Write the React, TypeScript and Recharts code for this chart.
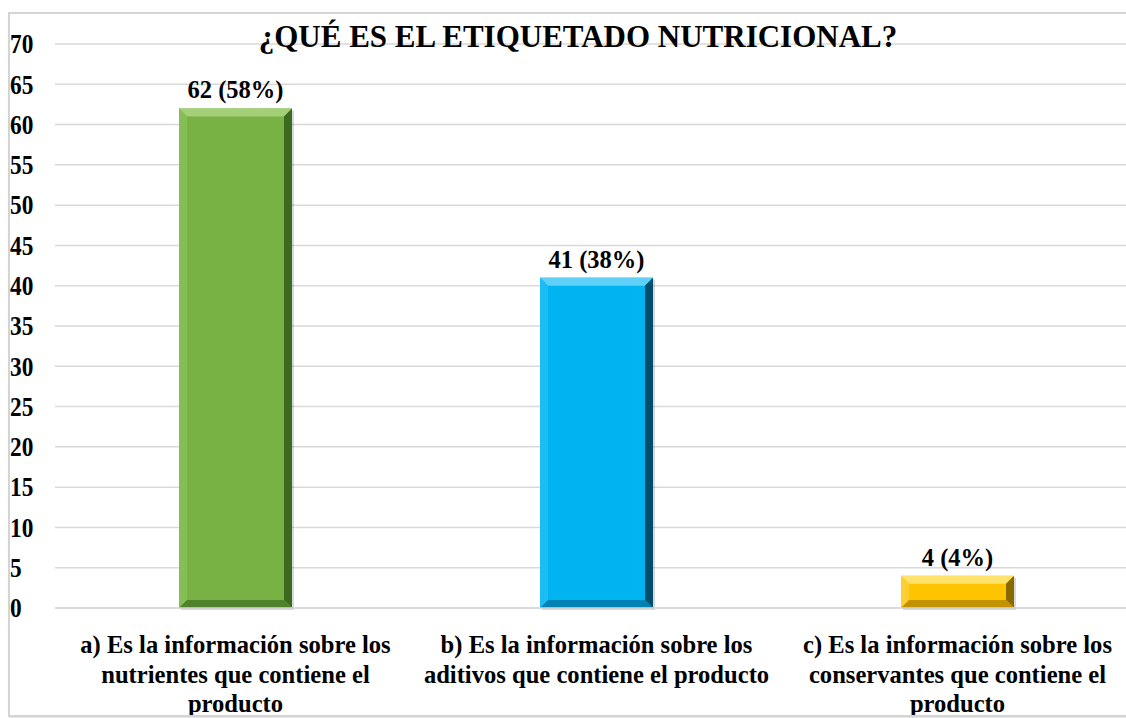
import React from "react";
import { BarChart, Bar, XAxis, YAxis, CartesianGrid, LabelList, Cell } from "recharts";

const categories = ["a", "b", "c"];
const categoryLines = [
  ["a) Es la información sobre los", "nutrientes que contiene el", "producto"],
  ["b) Es la información sobre los", "aditivos que contiene el producto"],
  ["c) Es la información sobre los", "conservantes que contiene el", "producto"],
];
const counts = [62, 41, 4];
const percents = [58, 38, 4];
const yTicks = [0, 5, 10, 15, 20, 25, 30, 35, 40, 45, 50, 55, 60, 65, 70];
const title = "¿QUÉ ES EL ETIQUETADO NUTRICIONAL?";

const palettes = [
  { base: "#78b244", top: "#a3cf76", left: "#86bd55", right: "#3c6a1f", bottom: "#4f822b" },
  { base: "#00b4f2", top: "#5fd0f8", left: "#1cbcf4", right: "#004e6c", bottom: "#0083b2" },
  { base: "#ffc400", top: "#ffe36a", left: "#ffcf30", right: "#8a6700", bottom: "#c29200" },
];

const data = categories.map((c, i) => ({
  category: c,
  value: counts[i],
  label: `${counts[i]} (${percents[i]}%)`,
  idx: i,
}));

const FONT = "'Liberation Serif', 'Times New Roman', Times, serif";

const BevelBar = (props: any) => {
  const { x, y, width: w, height: h, payload } = props;
  if (!h || h <= 0) return null;
  const p = palettes[payload.idx];
  const b = Math.min(8, h / 2, w / 2);
  return (
    <g>
      <rect x={x + 2} y={y + 2} width={w} height={h} fill="rgba(0,0,0,0.15)" />
      <rect x={x} y={y} width={w} height={h} fill={p.base} />
      <polygon points={`${x},${y} ${x + w},${y} ${x + w - b},${y + b} ${x + b},${y + b}`} fill={p.top} />
      <polygon points={`${x},${y} ${x + b},${y + b} ${x + b},${y + h - b} ${x},${y + h}`} fill={p.left} />
      <polygon points={`${x + w},${y} ${x + w},${y + h} ${x + w - b},${y + h - b} ${x + w - b},${y + b}`} fill={p.right} />
      <polygon points={`${x},${y + h} ${x + w},${y + h} ${x + w - b},${y + h - b} ${x + b},${y + h - b}`} fill={p.bottom} />
    </g>
  );
};

const YTick = (props: any) => {
  const { y, payload } = props;
  return (
    <text
      transform={`translate(10, ${y}) scale(0.88, 1)`}
      x={0}
      y={0}
      dy="0.35em"
      textAnchor="start"
      fontFamily={FONT}
      fontWeight="bold"
      fontSize={26.5}
      fill="#000"
    >
      {payload.value}
    </text>
  );
};

const XTick = (props: any) => {
  const { x, y, payload } = props;
  const i = categories.indexOf(payload.value);
  const lines = categoryLines[i] || [];
  return (
    <text x={x} y={y} textAnchor="middle" fontFamily={FONT} fontWeight="bold" fontSize={24.6} fill="#000">
      {lines.map((l, k) => (
        <tspan key={k} x={x} y={y + 45 + k * 29.5}>
          {l}
        </tspan>
      ))}
    </text>
  );
};

export default function App() {
  return (
    <div style={{ position: "absolute", left: 0, top: 0, width: 1126, height: 718, overflow: "hidden", background: "#fff" }}>
      <div style={{ position: "absolute", left: 0, top: 0 }}>
        <BarChart
          width={1160}
          height={718}
          data={data}
          margin={{ top: 44, right: 22, left: 10, bottom: 0 }}
          barSize={113}
        >
          <CartesianGrid vertical={false} stroke="#d9d9d9" strokeWidth={1.5} />
          <YAxis
            domain={[0, 70]}
            ticks={yTicks}
            interval={0}
            width={45}
            axisLine={false}
            tickLine={false}
            tick={<YTick />}
          />
          <XAxis
            dataKey="category"
            height={110}
            interval={0}
            tickLine={false}
            tickSize={0}
            tickMargin={0}
            axisLine={{ stroke: "#d9d9d9", strokeWidth: 1.5 }}
            tick={<XTick />}
          />
          <Bar dataKey="value" shape={<BevelBar />} isAnimationActive={false}>
            {data.map((d, i) => (
              <Cell key={i} fill={palettes[i].base} />
            ))}
            <LabelList
              dataKey="label"
              position="top"
              offset={10}
              fontFamily={FONT}
              fontWeight="bold"
              fontSize={24.5}
              fill="#000"
            />
          </Bar>
        </BarChart>
      </div>
      <svg style={{ position: "absolute", left: 0, top: 0 }} width={1126} height={718}>
        <text x={578} y={47} textAnchor="middle" fontFamily={FONT} fontWeight="bold" fontSize={31} fill="#000">
          {title}
        </text>
      </svg>
      <div
        style={{
          position: "absolute",
          left: 8,
          top: 12,
          width: 1140,
          height: 701,
          border: "2px solid #d4d4d4",
          boxShadow: "1px 1px 2px rgba(0,0,0,0.15)",
          pointerEvents: "none",
        }}
      />
    </div>
  );
}
